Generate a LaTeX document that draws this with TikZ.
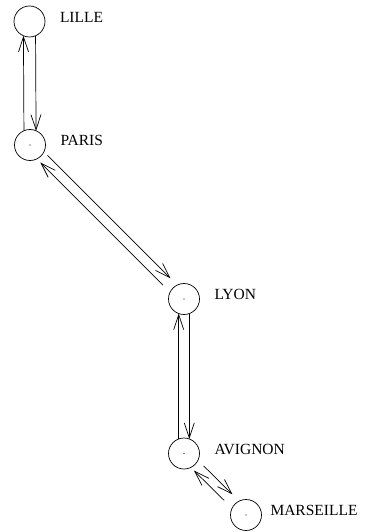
\documentclass[tikz,border=0pt]{standalone}
\usepackage{fontspec}
\setmainfont{Liberation Serif}
\usepackage{tikz}
\usetikzlibrary{arrows.meta,positioning}
\tikzset{
    citynode/.style = {
        circle,
        draw=black,
        line width=0.7pt,
        minimum size=31pt,
        inner sep=0pt,
        outer sep=0pt
    },
    citylabel/.style = {
        inner sep=0pt,
        outer sep=0pt,
        font=\fontsize{15.5}{18}\selectfont,
        yshift=4.5pt
    },
    route/.style = {
        -{Straight Barb[length=15pt,width=10pt]},
        line width=0.7pt
    }
}

\begin{document}
\begin{tikzpicture}[x=1pt, y=-1pt, node distance=15pt]
            \useasboundingbox (0,0) rectangle (365,532);
            % cities
            \node [citynode] (lille) at (29.5,21.5) {};
            \node [citynode] (paris) at (30,145) {};
            \node [citynode] (lyon) at (184,299) {};
            \node [citynode] (avignon) at (184,453.5) {};
            \node [citynode] (marseille) at (246,515) {};
            \foreach \c in {paris,lyon,avignon,marseille}
                \fill (\c.center) circle [radius=0.6pt];
            % names
            \node [citylabel, right=of lille] (lillename) {LILLE};
            \node [citylabel, right=of paris] (parisname) {PARIS};
            \node [citylabel, right=of lyon] (lyonname) {LYON};
            \node [citylabel, right=of avignon] (avignonname) {AVIGNON};
            \node [citylabel, right=9pt of marseille] (marseillename) {MARSEILLE};
            % routes
            \draw [route] (paris.113) -- (lille.247);
            \draw [route] (lille.293) -- (paris.67);
            \draw [route, shorten <=5pt, shorten >=9.5pt] (paris.-26) -- (lyon.116);
            \draw [route, shorten <=10pt, shorten >=5pt] (lyon.154) -- (paris.296);
            \draw [route] (lyon.290) -- (avignon.70);
            \draw [route] (avignon.110) -- (lyon.250);
            \draw [route, shorten <=8pt, shorten >=9.5pt] (avignon.-26) -- (marseille.116);
            \draw [route, shorten <=11pt, shorten >=4.5pt] (marseille.154) -- (avignon.296);
        \end{tikzpicture}
\end{document}
